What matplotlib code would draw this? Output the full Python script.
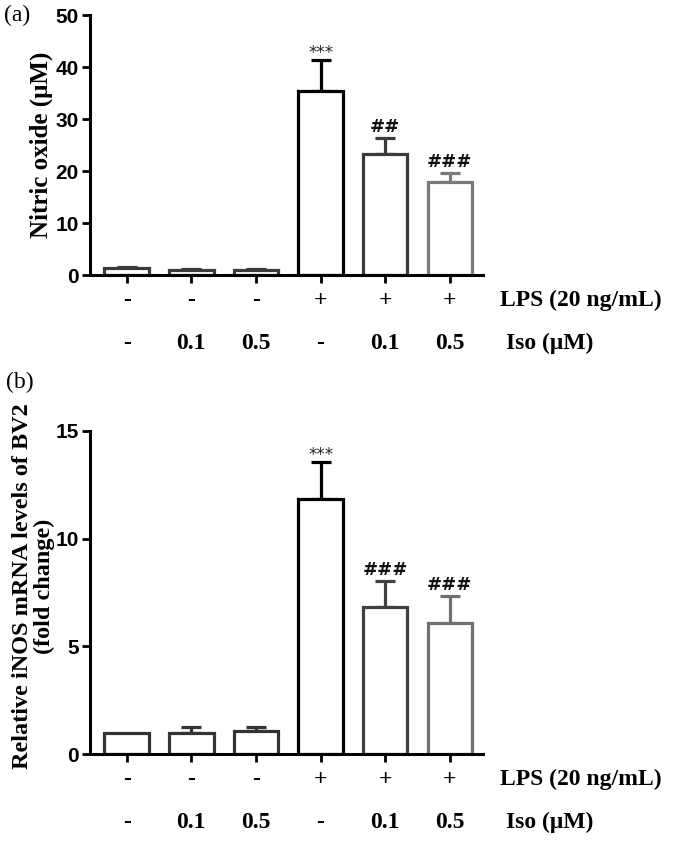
import matplotlib
matplotlib.use("Agg")
import matplotlib.pyplot as plt
import matplotlib.transforms as mtransforms

# data
lps_row = ["-", "-", "-", "+", "+", "+"]
iso_row = ["-", "0.1", "0.5", "-", "0.1", "0.5"]

no_mean = [1.4, 1.1, 1.1, 35.4, 23.4, 17.9]
no_err = [0.1, 0.15, 0.1, 6.0, 3.0, 1.8]
no_marks = ["", "", "", "***", "##", "###"]

inos_mean = [1.0, 1.0, 1.08, 11.85, 6.82, 6.08]
inos_err = [0.0, 0.28, 0.17, 1.68, 1.2, 1.27]
inos_marks = ["", "", "", "***", "###", "###"]

edge_a = ["#3a3a3a", "#3a3a3a", "#3a3a3a", "#000000", "#3a3a3a", "#7a7a7a"]
edge_b = ["#333333", "#333333", "#333333", "#000000", "#404040", "#707070"]

serif = "Liberation Serif"
sans = "Liberation Sans"

fig = plt.figure(figsize=(6.8, 8.47), dpi=100)
ax1 = fig.add_axes([0.132, 0.675, 0.578, 0.307])
ax2 = fig.add_axes([0.132, 0.1094, 0.578, 0.382])


def draw_panel(ax, means, errs, marks, edges, ymax, yticks):
    x = list(range(len(means)))
    ax.bar(x, means, width=0.69, color="white", edgecolor=edges, linewidth=2.3, zorder=2)
    for i in x:
        if errs[i] > 0:
            ax.errorbar(i, means[i], yerr=[[0], [errs[i]]], fmt="none", ecolor=edges[i],
                        elinewidth=2.3, capsize=7.5, capthick=2.3, zorder=1)
        if marks[i]:
            top = means[i] + errs[i]
            if marks[i].startswith("*"):
                ax.annotate(marks[i], (i, top), xytext=(0, 1.5), textcoords="offset points",
                            ha="center", va="baseline", fontsize=12, color="#222222",
                            family="DejaVu Sans")
            else:
                ax.annotate(marks[i], (i, top), xytext=(0, 4.5), textcoords="offset points",
                            ha="center", va="baseline", fontsize=13, fontweight="bold",
                            color="#111111", family="DejaVu Sans")
    ax.set_xlim(-0.57, 5.51)
    ax.set_ylim(0, ymax)
    ax.set_yticks(yticks)
    ax.set_yticklabels([str(t) for t in yticks], fontsize=15, fontweight="bold", family=sans)
    ax.set_xticks(x)
    ax.set_xticklabels([])
    ax.tick_params(axis="both", direction="out", length=6, width=2, pad=2)
    for s in ["top", "right"]:
        ax.spines[s].set_visible(False)
    for s in ["left", "bottom"]:
        ax.spines[s].set_linewidth(2.2)

    trans = mtransforms.blended_transform_factory(ax.transData, ax.transAxes)
    for i in x:
        ax.annotate(lps_row[i], (i, 0), xycoords=trans, xytext=(0, -18), textcoords="offset points",
                    ha="center", va="center", fontsize=17, fontweight="bold", family=serif)
        ax.annotate(iso_row[i], (i, 0), xycoords=trans, xytext=(0, -49), textcoords="offset points",
                    ha="center", va="center", fontsize=17, fontweight="bold", family=serif)
    ax.annotate("LPS (20 ng/mL)", (5.77, 0), xycoords=trans, xytext=(0, -18), textcoords="offset points",
                ha="left", va="center", fontsize=17, fontweight="bold", family=serif)
    ax.annotate("Iso (\u03bcM)", (5.87, 0), xycoords=trans, xytext=(0, -49), textcoords="offset points",
                ha="left", va="center", fontsize=17, fontweight="bold", family=serif)


draw_panel(ax1, no_mean, no_err, no_marks, edge_a, 50, [0, 10, 20, 30, 40, 50])
draw_panel(ax2, inos_mean, inos_err, inos_marks, edge_b, 15, [0, 5, 10, 15])

ax1.set_ylabel("Nitric oxide (\u03bcM)", fontsize=18, fontweight="bold", family=serif)
ax1.yaxis.set_label_coords(-0.094, 0.5)
ax2.set_ylabel("Relative iNOS mRNA levels of BV2\n(fold change)", fontsize=17.5, fontweight="bold",
               family=serif, linespacing=1.05)
ax2.yaxis.set_label_coords(-0.089, 0.52)

fig.text(0.006, 1 - 15 / 847, "(a)", fontsize=17, family=serif, va="center", ha="left")
fig.text(0.009, 1 - 382 / 847, "(b)", fontsize=17, family=serif, va="center", ha="left")

fig.savefig("out.png", dpi=100)
